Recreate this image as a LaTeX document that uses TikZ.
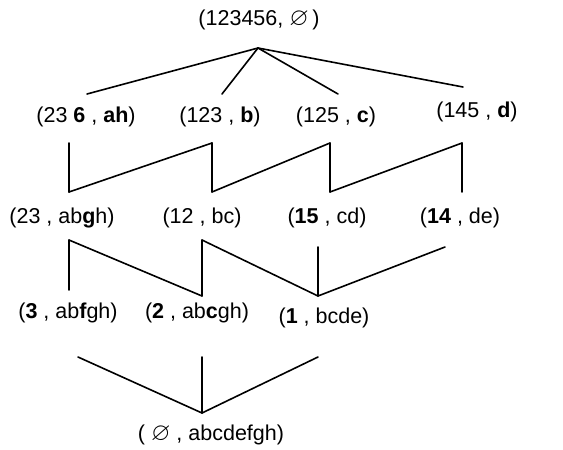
\documentclass[tikz,border=0pt]{standalone}
\usepackage{amssymb}
\usepackage{fontspec}
\setmainfont{Liberation Sans}
\newcommand{\bigempty}{{\fontsize{25}{25}\selectfont$\varnothing$}}
\begin{document}
\begin{tikzpicture}[x=1pt,y=-1pt,
  lbl/.style={inner sep=0pt,font=\fontsize{21.5}{24}\selectfont},
  edge/.style={line width=1.6pt,line cap=round,line join=round}]
\useasboundingbox[fill=white] (0,0) rectangle (563,450);
% nodes
\node[lbl] (T) at (259,20) {(123456, \bigempty\,)};
\node[lbl] (A) at (86,117) {(23 \textbf{6} , \textbf{ah})};
\node[lbl] (B) at (220,117) {(123 , \textbf{b})};
\node[lbl] (C) at (336,117) {(125 , \textbf{c})};
\node[lbl] (D) at (477,112) {(145 , \textbf{d})};
\node[lbl] (E) at (62,218) {(23 , ab\textbf{g}h)};
\node[lbl] (F) at (202,218) {(12 , bc)};
\node[lbl] (G) at (327,218) {(\textbf{15} , cd)};
\node[lbl] (H) at (460,218) {(\textbf{14} , de)};
\node[lbl] (I) at (68,313) {(\textbf{3} , ab\textbf{f}gh)};
\node[lbl] (J) at (197,313) {(\textbf{2} , ab\textbf{c}gh)};
\node[lbl] (K) at (324,318) {(\textbf{1} , bcde)};
\node[lbl] (L) at (211,435) {( \bigempty\ , abcdefgh)};
% connector end points
\coordinate (Tb) at (258,48);
\coordinate (At) at (87,94);   \coordinate (Ab) at (69,143);
\coordinate (Bt) at (222,94);  \coordinate (Bb) at (212,143);
\coordinate (Ct) at (338,94);  \coordinate (Cb) at (330,143);
\coordinate (Dt) at (463,87);  \coordinate (Db) at (462,143);
\coordinate (Et) at (69,192);  \coordinate (Eb) at (69,240);
\coordinate (Ft) at (212,192); \coordinate (Fb) at (202,240);
\coordinate (Gt) at (330,192); \coordinate (Gb) at (318,247);
\coordinate (Ht) at (462,192); \coordinate (Hb) at (445,247);
\coordinate (It) at (69,290);  \coordinate (Ib) at (78,357);
\coordinate (Jt) at (202,296); \coordinate (Jb) at (202,357);
\coordinate (Kt) at (318,296); \coordinate (Kb) at (318,357);
\coordinate (Lt) at (202,413);
% connectors
\draw[edge] (Tb) -- (At);
\draw[edge] (Tb) -- (Bt);
\draw[edge] (Tb) -- (Ct);
\draw[edge] (Tb) -- (Dt);
\draw[edge] (Ab) -- (Et);
\draw[edge] (Et) -- (Bb);
\draw[edge] (Bb) -- (Ft);
\draw[edge] (Ft) -- (Cb);
\draw[edge] (Cb) -- (Gt);
\draw[edge] (Gt) -- (Db);
\draw[edge] (Db) -- (Ht);
\draw[edge] (Eb) -- (It);
\draw[edge] (Eb) -- (Jt);
\draw[edge] (Fb) -- (Jt);
\draw[edge] (Fb) -- (Kt);
\draw[edge] (Gb) -- (Kt);
\draw[edge] (Hb) -- (Kt);
\draw[edge] (Ib) -- (Lt);
\draw[edge] (Jb) -- (Lt);
\draw[edge] (Kb) -- (Lt);
\end{tikzpicture}
\end{document}
